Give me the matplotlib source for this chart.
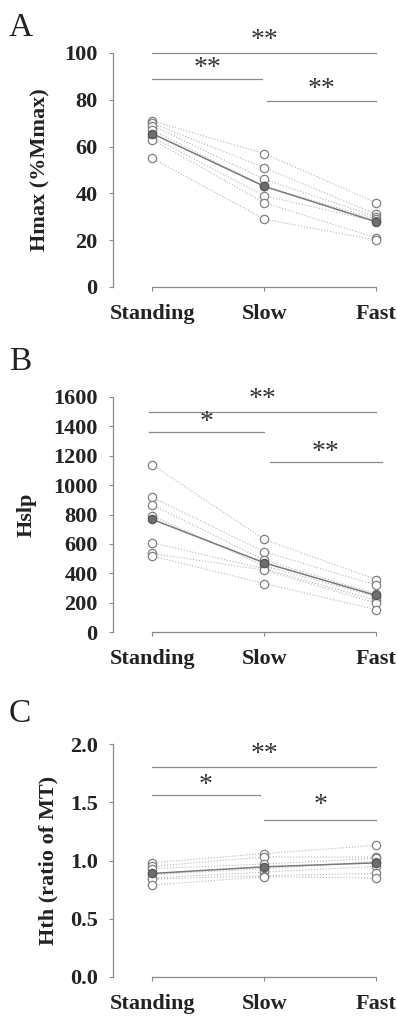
import numpy as np
import matplotlib
matplotlib.use("Agg")
import matplotlib.pyplot as plt

plt.rcParams["font.family"] = ["Liberation Serif", "DejaVu Serif"]

# --- data ---
conditions = ["Standing", "Slow", "Fast"]

# Panel A: Hmax (%Mmax), one row per subject
hmax = [
    [71, 57, 36],
    [70, 51, 31],
    [69, 46, 30],
    [67, 43, 29],
    [64, 39, 28],
    [63, 36, 21],
    [55, 29, 20],
]
# Panel B: Hslp
hslp = [
    [1138, 630, 357],
    [917, 546, 319],
    [865, 489, 260],
    [790, 450, 240],
    [608, 430, 216],
    [535, 421, 196],
    [517, 330, 152],
]
# Panel C: Hth (ratio of MT)
hth = [
    [0.98, 1.06, 1.13],
    [0.95, 1.03, 1.03],
    [0.93, 0.97, 1.02],
    [0.88, 0.93, 0.99],
    [0.85, 0.90, 0.95],
    [0.84, 0.87, 0.89],
    [0.79, 0.86, 0.85],
]

# significance bars: (x start, x end, y level, label, label y)
sig_a = [(0.0, 2.0, 100, "**", 105.5), (0.0, 0.98, 89, "**", 93.5), (1.02, 2.0, 79.5, "**", 84.5)]
sig_b = [(-0.03, 2.0, 1500, "**", 1580), (-0.03, 1.0, 1365, "*", 1425), (1.05, 2.05, 1155, "**", 1220)]
sig_c = [(0.0, 2.0, 1.8, "**", 1.91), (0.0, 0.96, 1.56, "*", 1.64), (1.0, 2.0, 1.35, "*", 1.47)]

panels = [
    dict(letter="A", data=hmax, sig=sig_a, ylabel="Hmax (%Mmax)", ylim=100,
         yticks=[0, 20, 40, 60, 80, 100], fmt="{:.0f}", bottom=287, top=53,
         lab_x=-0.27, letter_y=12),
    dict(letter="B", data=hslp, sig=sig_b, ylabel="Hslp", ylim=1600,
         yticks=[0, 200, 400, 600, 800, 1000, 1200, 1400, 1600], fmt="{:.0f}",
         bottom=632, top=397, lab_x=-0.32, letter_y=347),
    dict(letter="C", data=hth, sig=sig_c, ylabel="Hth (ratio of MT)", ylim=2.0,
         yticks=[0.0, 0.5, 1.0, 1.5, 2.0], fmt="{:.1f}", bottom=977, top=744,
         lab_x=-0.24, letter_y=698),
]

W, H = 397, 1018
fig = plt.figure(figsize=(W / 100, H / 100), dpi=100)

grey = "#8a8a8a"
txt = "#222222"
x = np.arange(len(conditions))

for p in panels:
    left, right = 113, 382
    ax = fig.add_axes([left / W, 1 - p["bottom"] / H, (right - left) / W,
                       (p["bottom"] - p["top"]) / H])
    vals = np.array(p["data"], dtype=float)
    mean = vals.mean(axis=0)

    # individual subjects
    for row in vals:
        ax.plot(x, row, ls=":", color="#b5b5b5", lw=0.8, zorder=1)
    for row in vals:
        ax.plot(x, row, ls="none", marker="o", ms=6, mfc="white", mec="#808080",
                mew=0.9, zorder=2)
    # group mean
    ax.plot(x, mean, color="#7a7a7a", lw=1.1, zorder=3)
    ax.plot(x, mean, ls="none", marker="o", ms=6, mfc="#6e6e6e", mec="#555555",
            mew=0.9, zorder=4)

    for x0, x1, yl, lab, ty in p["sig"]:
        ax.plot([x0, x1], [yl, yl], color=grey, lw=0.9, clip_on=False)
        ax.text((x0 + x1) / 2, ty, lab, ha="center", va="center", fontsize=20,
                color="#333333", clip_on=False)

    ax.set_xlim(-0.35, 2.05)
    ax.set_ylim(0, p["ylim"])
    ax.set_xticks(x)
    ax.set_xticklabels(conditions, fontsize=16, fontweight="bold", color=txt)
    ax.set_yticks(p["yticks"])
    ax.set_yticklabels([p["fmt"].format(v) for v in p["yticks"]], fontsize=16,
                       fontweight="bold", color=txt)
    ax.tick_params(axis="x", length=3, pad=9, color=grey)
    ax.tick_params(axis="y", length=3, pad=8, color=grey)

    for s in ["top", "right"]:
        ax.spines[s].set_visible(False)
    for s in ["left", "bottom"]:
        ax.spines[s].set_color(grey)
        ax.spines[s].set_linewidth(0.9)
    ax.spines["bottom"].set_bounds(0, 2)
    ax.spines["left"].set_bounds(0, p["ylim"])
    ax.set_facecolor("none")

    ax.set_ylabel(p["ylabel"], fontsize=16, fontweight="bold", color=txt, va="center")
    ax.yaxis.set_label_coords(p["lab_x"], 0.5)

    fig.text(9 / W, 1 - p["letter_y"] / H, p["letter"], fontsize=24,
             color=txt, ha="left", va="top")

fig.savefig("out.png", dpi=100)
